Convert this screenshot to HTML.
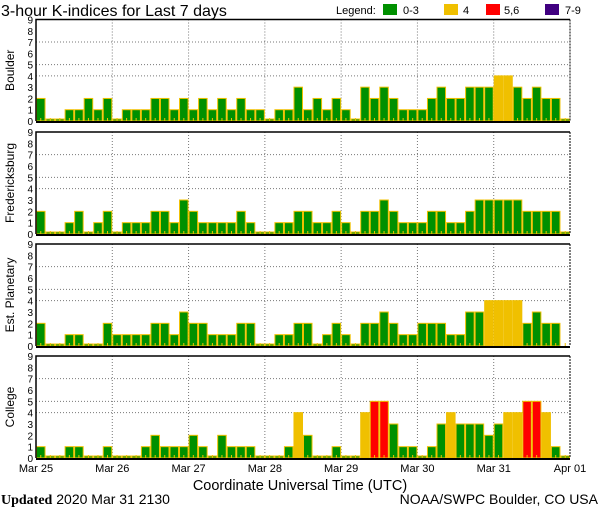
<!DOCTYPE html>
<html><head><meta charset="utf-8">
<style>
html,body{margin:0;padding:0;background:#fff;}
svg{display:block;font-family:"Liberation Sans","DejaVu Sans",sans-serif;}
</style></head>
<body>
<svg id="chart" width="600" height="510" viewBox="0 0 600 510" xmlns="http://www.w3.org/2000/svg">
<text x="1" y="16" font-size="16" fill="#000">3-hour K-indices for Last 7 days</text>
<g font-size="11">
<text x="336" y="14">Legend:</text>
<rect x="383" y="4" width="14" height="11" fill="#009000"/>
<text x="403" y="14">0-3</text>
<rect x="444" y="4" width="14" height="11" fill="#f0c000"/>
<text x="463" y="14">4</text>
<rect x="486" y="4" width="14" height="11" fill="#ff0000"/>
<text x="504" y="14">5,6</text>
<rect x="545" y="4" width="14" height="11" fill="#400080"/>
<text x="565" y="14">7-9</text>
</g>
<g id="panels"></g>
<text x="300" y="490" font-size="14.5" text-anchor="middle">Coordinate Universal Time (UTC)</text>
<text x="1" y="504" font-size="14"><tspan font-family="Liberation Serif,serif" font-weight="bold">Updated</tspan> 2020 Mar 31 2130</text>
<text x="598" y="504" font-size="14" text-anchor="end">NOAA/SWPC Boulder, CO USA</text>
</svg>
<script>
const dayLabels = ["Mar 25","Mar 26","Mar 27","Mar 28","Mar 29","Mar 30","Mar 31","Apr 01"];
const yTicks = [0,1,2,3,4,5,6,7,8,9];
const gridLevels = [4,5,7];
const stationNames = ["Boulder","Fredericksburg","Est. Planetary","College"];
const boulder = [2,0,0,1,1,2,1,2, 0,1,1,1,2,2,1,2, 1,2,1,2,1,2,1,1, 0,1,1,3,1,2,1,2, 1,0,3,2,3,2,1,1, 1,2,3,2,2,3,3,3, 4,4,3,2,3,2,2,0];
const fredericksburg = [2,0,0,1,2,0,1,2, 0,1,1,1,2,2,1,3, 2,1,1,1,1,2,1,0, 0,1,1,2,2,1,1,2, 1,0,2,2,3,2,1,1, 1,2,2,1,1,2,3,3, 3,3,3,2,2,2,2,0];
const planetary = [2,0,0,1,1,0,0,2, 1,1,1,1,2,2,1,3, 2,2,1,1,1,2,2,0, 0,1,1,2,2,0,1,2, 1,0,2,2,3,2,1,1, 2,2,2,1,1,3,3,4, 4,4,4,2,3,2,2,null];
const college = [1,0,0,1,1,0,0,1, 0,0,0,1,2,1,1,1, 2,1,0,2,1,1,1,0, 0,0,1,4,2,0,0,1, 0,0,4,5,5,3,1,1, 0,1,3,4,3,3,3,2, 3,4,4,5,5,4,1,0];
const seriesList = [boulder, fredericksburg, planetary, college];

const NS = "http://www.w3.org/2000/svg";
const X0 = 36, X1 = 570, NBARS = 56;
const panelTops = [19.5, 132, 244, 356];
const panelZeros = [121, 234, 346, 458];
function xScale(i){ return X0 + (X1 - X0) * i / NBARS; }
function mk(tag, attrs, parent){ const e = document.createElementNS(NS, tag); for (const k in attrs) e.setAttribute(k, attrs[k]); parent.appendChild(e); return e; }
function color(v){ return v <= 3 ? "#009000" : v === 4 ? "#f0c000" : v <= 6 ? "#ff0000" : "#400080"; }
const root = document.getElementById("panels");

seriesList.forEach((data, p) => {
  const top = panelTops[p], zero = panelZeros[p];
  const yScale = v => zero - (zero - top) * v / 9;
  const g = mk("g", {}, root);
  
  
  gridLevels.forEach(l => {
    const gl = mk("line", {x1: X0, x2: X1, y1: yScale(l), y2: yScale(l), stroke: "#777", "stroke-dasharray": "1,2"}, g);
    
    
  });
  for (let d = 1; d < 7; d++) {
    const vl = mk("line", {x1: xScale(d*8), x2: xScale(d*8), y1: top, y2: zero, stroke: "#777", "stroke-dasharray": "1,2"}, g);
    
    
  }
  data.forEach((v, i) => {
    const x = xScale(i), w = xScale(i+1) - x;
    if (v !== null) {
      const h = v === 0 ? 2 : zero - yScale(v);
      const b = mk("rect", {x: x + 0.5, y: zero - h, width: w - 1, height: h, fill: color(v), stroke: "#f0c000", "stroke-width": 1}, g);
      
      
    }
    const t = mk("rect", {x: x + w/2 - 0.5, y: zero - 3, width: 1, height: 3, fill: "#f0c000"}, g);
    
    
  });
  const fr = mk("path", {d: `M${X0},${zero} V${top} H${X1}`, fill: "none", stroke: "#000", "stroke-width": 1.5}, g);
  
  
  const rd = mk("line", {x1: X1, x2: X1, y1: top, y2: zero, stroke: "#000", "stroke-dasharray": "2,1"}, g);
  
  
  const ax = mk("line", {x1: X0, x2: X1, y1: zero + 1, y2: zero + 1, stroke: "#000", "stroke-width": 2}, g);
  
  
  yTicks.forEach(t => {
    const tx = mk("text", {x: 33, y: yScale(t) + 4, "font-size": 10, "text-anchor": "end"}, g);
    tx.textContent = t;
    
    
  });
  const cy = (top + zero) / 2;
  const lbl = mk("text", {x: 14, y: cy, "font-size": 12, "text-anchor": "middle", transform: `rotate(-90 14 ${cy})`}, g);
  lbl.textContent = stationNames[p];
  
  
});
dayLabels.forEach((d, i) => {
  const t = mk("text", {x: xScale(i*8), y: 472, "font-size": 11, "text-anchor": "middle"}, root);
  t.textContent = d;
  
  
});
</script>
</body></html>
